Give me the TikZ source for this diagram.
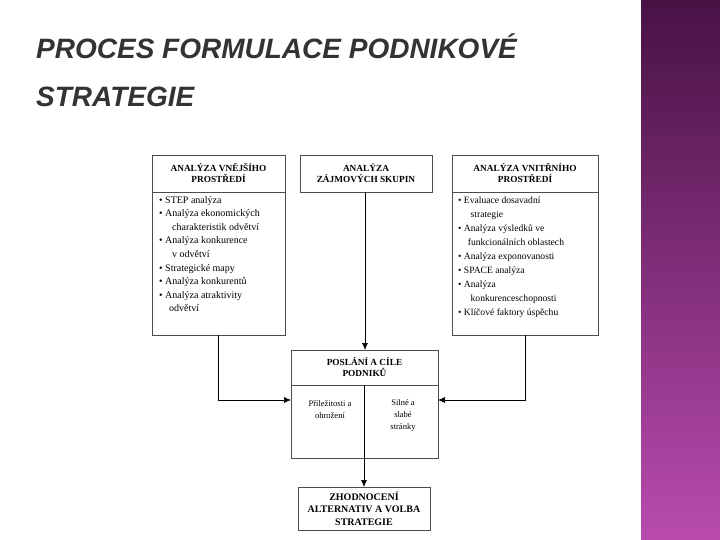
\documentclass[tikz,border=0pt]{standalone}
\usepackage{fontspec}
\setmainfont{Liberation Serif}
\newfontfamily\titlefont{Liberation Sans}
\usetikzlibrary{arrows.meta}
\definecolor{bandtop}{RGB}{72,18,68}
\definecolor{bandbot}{RGB}{185,75,175}
\tikzset{
  x=1pt,y=-1pt,
  box/.style={draw=black!70,line width=0.8pt},
  hdr/.style={align=center,font=\bfseries\fontsize{9.3}{11}\selectfont,inner sep=0pt},
  lst/.style={align=left,font=\fontsize{10}{13.6}\selectfont,inner sep=0pt,anchor=north west},
  small/.style={align=center,font=\fontsize{8.5}{12}\selectfont,inner sep=0pt},
  arr/.style={line width=0.7pt,-{Latex[length=7pt,width=6pt]}},
  ln/.style={line width=0.7pt}
}
\begin{document}
\begin{tikzpicture}
\useasboundingbox (0,0) rectangle (720,540);
\fill[white] (0,0) rectangle (720,540);
\shade[top color=bandtop,bottom color=bandbot] (641,0) rectangle (720,540);
\node[anchor=west,inner sep=0pt,align=left,font=\titlefont\bfseries\itshape\fontsize{28}{48}\selectfont,text=black!80] (title) at (36,70) {PROCES FORMULACE PODNIKOVÉ\\STRATEGIE};
% left box
\draw[box] (152,155) rectangle (285,335);
\draw[box] (152,192) -- (285,192);
\node[hdr] (lh) at (218.5,173) {ANALÝZA VNĚJŠÍHO\\PROSTŘEDÍ};
\node[lst] (ll) at (159,196) {• STEP analýza\\• Analýza ekonomických\\\hspace*{1.3em}charakteristik odvětví\\• Analýza konkurence\\\hspace*{1.3em}v odvětví\\• Strategické mapy\\• Analýza konkurentů\\• Analýza atraktivity\\\hspace*{1em}odvětví};
% middle box
\draw[box] (300,155) rectangle (432,192);
\node[hdr] (mh) at (366,173) {ANALÝZA\\ZÁJMOVÝCH SKUPIN};
% right box
\draw[box] (452,155) rectangle (598,335);
\draw[box] (452,192) -- (598,192);
\node[hdr] (rh) at (525,173) {ANALÝZA VNITŘNÍHO\\PROSTŘEDÍ};
\node[lst,font=\fontsize{9.6}{14}\selectfont] (rl) at (458,197) {• Evaluace dosavadní\\\hspace*{1.3em}strategie\\• Analýza výsledků ve\\\hspace*{1em}funkcionálních oblastech\\• Analýza exponovanosti\\• SPACE analýza\\• Analýza\\\hspace*{1.3em}konkurenceschopnosti\\• Klíčové faktory úspěchu};
% center box
\draw[box] (291,350) rectangle (438,458);
\draw[box] (291,385) -- (438,385);
\node[hdr] (ch) at (364.5,367) {POSLÁNÍ A CÍLE\\PODNIKŮ};
\node[small] (co) at (330,410) {Příležitosti a\\ohrožení};
\node[small] (cs) at (403,415) {Silné a\\slabé\\stránky};
% bottom box
\draw[box] (298,487) rectangle (430,530);
\node[hdr,font=\bfseries\fontsize{10}{12.5}\selectfont] (bh) at (364,508.5) {ZHODNOCENÍ\\ALTERNATIV A VOLBA\\STRATEGIE};
% connectors
\coordinate (m1) at (365,192);
\coordinate (m2) at (365,350);
\draw[arr] (m1) -- (m2);
\coordinate (c1) at (364,385);
\coordinate (c2) at (364,487);
\draw[ln] (c1) -- (364,458);
\draw[arr] (364,458) -- (c2);
\coordinate (l1) at (218,335);
\coordinate (l2) at (291,400);
\draw[arr] (l1) |- (l2);
\coordinate (r1) at (525,335);
\coordinate (r2) at (438,400);
\draw[arr] (r1) |- (r2);
\end{tikzpicture}
\end{document}
